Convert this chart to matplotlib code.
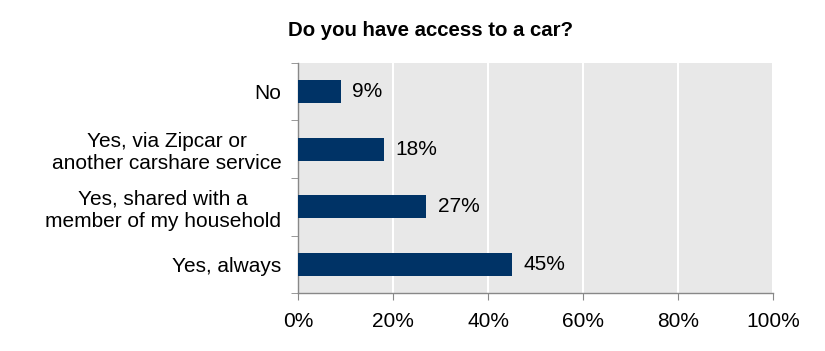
import matplotlib
matplotlib.use("Agg")
import matplotlib.pyplot as plt
from matplotlib.ticker import FuncFormatter

categories = ["Yes, always", "Yes, shared with a\nmember of my household",
              "Yes, via Zipcar or\nanother carshare service", "No"]
values = [45, 27, 18, 9]
xticks = [0, 20, 40, 60, 80, 100]

plt.rcParams['font.family'] = ['Liberation Sans', 'DejaVu Sans']
FS = 15

fig = plt.figure(figsize=(8.25, 3.51), dpi=100)
ax = fig.add_axes([298/825, 1-293/351, 475/825, 230/351])
ax.set_facecolor('#E8E8E8')

pos = list(range(len(categories)))
ax.barh(pos, values, height=0.4, color='#003366', zorder=3)
for p, v in zip(pos, values):
    ax.text(v + 2.4, p, f"{v}%", va='center', ha='left', fontsize=FS, color='black', zorder=4)

ax.set_xlim(0, 100)
ax.set_ylim(-0.5, len(categories) - 0.5)
ax.set_xticks(xticks)
ax.xaxis.set_major_formatter(FuncFormatter(lambda x, _: f"{int(x)}%"))
ax.set_yticks(pos)
ax.set_yticklabels(categories, multialignment='center', linespacing=1.2)
ax.set_yticks([p + 0.5 for p in [-1] + pos], minor=True)
ax.tick_params(axis='y', which='major', length=0, pad=12, labelsize=FS)
ax.tick_params(axis='y', which='minor', length=5, color='#888888', direction='out')
ax.tick_params(axis='x', length=5, color='#888888', direction='out', labelsize=FS, pad=9)

ax.grid(axis='x', color='white', linewidth=1.5, zorder=1)
for s in ['top', 'right']:
    ax.spines[s].set_visible(False)
for s in ['left', 'bottom']:
    ax.spines[s].set_color('#888888')
    ax.spines[s].set_linewidth(1)

fig.text(431/825, 1-30/351, "Do you have access to a car?", ha='center', va='center',
         fontsize=14.7, fontweight='bold')

fig.savefig("out.png", dpi=100)
